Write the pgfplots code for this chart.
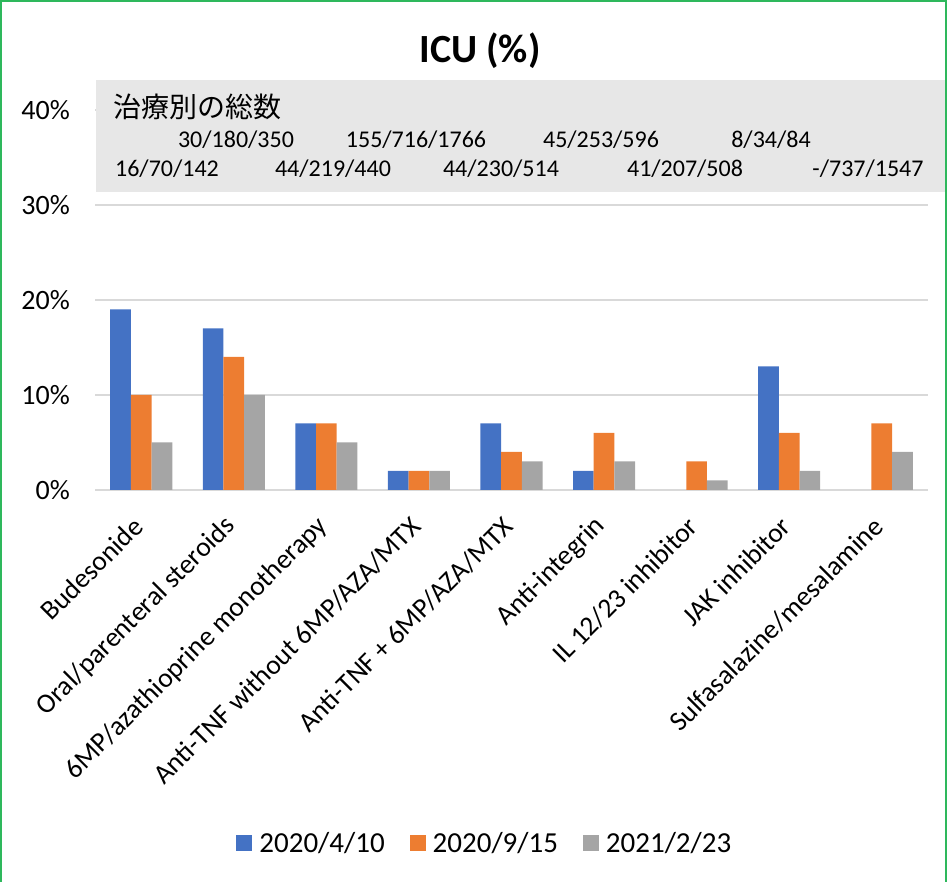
\documentclass[border=0pt]{standalone}
\usepackage{pgfplots}
\pgfplotsset{compat=1.18}
\usepackage{fontspec}
\setmainfont{Carlito}
\newfontfamily\cjk{Noto Sans CJK JP}
\definecolor{cblue}{HTML}{4472C4}
\definecolor{corange}{HTML}{ED7D31}
\definecolor{cgray}{HTML}{A5A5A5}
\definecolor{gridgray}{HTML}{D9D9D9}
\definecolor{boxgray}{HTML}{E7E7E7}
\definecolor{framegreen}{HTML}{2EB85C}
\begin{document}
\begin{tikzpicture}[x=1pt,y=1pt]
\useasboundingbox (0,0) rectangle (947,882);
\begin{axis}[
  at={(95pt,392pt)}, anchor=south west,
  scale only axis, width=833pt, height=380pt,
  xmin=-0.5, xmax=8.5, ymin=0, ymax=40,
  ybar=0pt, bar width=20.7pt,
  axis line style={draw=none},
  major tick length=0pt,
  ymajorgrids, grid style={gridgray, line width=1.5pt},
  ytick={0,10,20,30,40},
  yticklabel={\pgfmathprintnumber{\tick}\%},
  yticklabel style={font=\fontsize{28}{30}\selectfont, anchor=east, inner sep=0pt, xshift=-25pt},
  xtick={0,1,2,3,4,5,6,7,8},
  xticklabels={Budesonide, Oral/parenteral steroids, 6MP/azathioprine monotherapy, Anti-TNF without 6MP/AZA/MTX, Anti-TNF + 6MP/AZA/MTX, Anti-integrin, IL 12/23 inhibitor, JAK inhibitor, Sulfasalazine/mesalamine},
  xticklabel style={font=\fontsize{27.5}{29}\selectfont, anchor=east, inner sep=0pt, xshift=-3pt, yshift=-32pt, rotate=45},
  /pgf/number format/assume math mode=true,
  legend columns=3,
  legend style={at={(0.468,-0.929)}, anchor=center, draw=none, fill=none,
    font=\fontsize{29}{31}\selectfont,
    /tikz/every even column/.append style={column sep=23pt}},
  legend image code/.code={\fill[#1] (0pt,-8pt) rectangle (16pt,8pt); \path (21pt,0pt);},
]
\addplot[fill=cblue, draw=none] coordinates {(0,19) (1,17) (2,7) (3,2) (4,7) (5,2) (7,13)};
\addplot[fill=corange, draw=none] coordinates {(0,10) (1,14) (2,7) (3,2) (4,4) (5,6) (6,3) (7,6) (8,7)};
\addplot[fill=cgray, draw=none] coordinates {(0,5) (1,10) (2,5) (3,2) (4,3) (5,3) (6,1) (7,2) (8,4)};
\legend{2020/4/10, 2020/9/15, 2021/2/23}
\end{axis}
\fill[boxgray] (96,690) rectangle (946,802);
\node[anchor=west, inner sep=0pt, font=\cjk\fontsize{28}{30}\selectfont] at (113,775) {治療別の総数};
\begin{scope}[every node/.style={font=\fontsize{24}{26}\selectfont, inner sep=0pt}]
\node at (236,742) {30/180/350};
\node at (416,742) {155/716/1766};
\node at (601,742) {45/253/596};
\node at (771,742) {8/34/84};
\node at (167,713) {16/70/142};
\node at (333,713) {44/219/440};
\node at (501,713) {44/230/514};
\node at (685,713) {41/207/508};
\node at (868,713) {-/737/1547};
\end{scope}
\node[font=\bfseries\fontsize{40}{44}\selectfont] at (480,831) {ICU (\%)};
\draw[framegreen, line width=2pt] (1,0) -- (1,881) -- (946,881) -- (946,0);
\end{tikzpicture}
\end{document}
